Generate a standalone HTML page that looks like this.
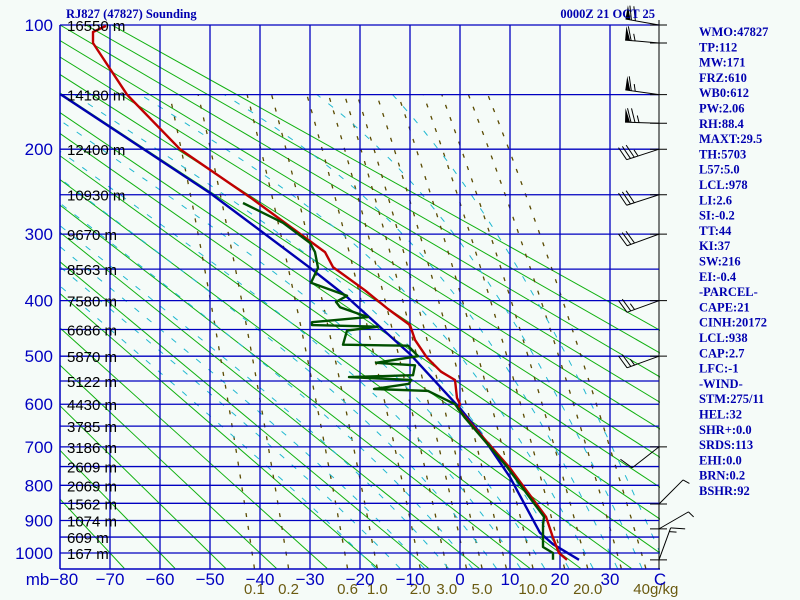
<!DOCTYPE html>
<html><head><meta charset="utf-8"><style>
body{margin:0;background:#f5fbf8;}
svg{display:block;font-family:"Liberation Sans",sans-serif;}
.bt{font-family:"Liberation Serif",serif;font-weight:bold;fill:#0000b0;font-size:12.5px;}
</style></head><body>
<svg id="chart" width="800" height="600" viewBox="0 0 800 600">
<rect width="800" height="600" fill="#f5fbf8"/>
<defs><clipPath id="plotclip"><rect x="60" y="25" width="600" height="544"/></clipPath>
<clipPath id="lowclip"><rect x="60" y="95" width="600" height="474"/></clipPath></defs>
<g id="dry" clip-path="url(#plotclip)"></g>
<g id="mix" clip-path="url(#lowclip)"></g>
<g id="moist" clip-path="url(#lowclip)"></g>
<g id="grid"></g>
<g id="profiles" clip-path="url(#plotclip)"></g>
<g id="winds"></g>
<g id="labels"></g>
<text x="66" y="18" class="bt" font-size="11.5">RJ827 (47827) Sounding</text>
<text x="655" y="18" class="bt" font-size="11.5" text-anchor="end">0000Z 21 OCT 25</text>
<g id="panel"></g>
</svg>
<script>
const pressureLevels=[100,150,200,250,300,350,400,450,500,550,600,650,700,750,800,850,900,950,1000];
const heightLabels=["16550","14180","12400","10930","9670","8563","7580","6686","5870","5122","4430","3785","3186","2609","2069","1562","1074","609","167"];
const pressureTickLabels=[100,200,300,400,500,600,700,800,900,1000];
const tempTicks=[-80,-70,-60,-50,-40,-30,-20,-10,0,10,20,30,40];
const mixRatios=[0.1,0.2,0.6,1.0,2.0,3.0,4.0,5.0,7.0,10.0,15.0,20.0,30.0,40.0];
const mixLabels=["0.1","0.2","0.6","1.0","2.0","3.0","","5.0","","10.0","","20.0","","40g/kg"];
const tempP=[100.6,104.4,111.6,150,200,253,325,347,383,414,442,469,503,531,548,586,600,610,631,751,889,952,1000,1022];
const tempT=[-70.8,-73.4,-73.4,-66.6,-56,-42,-27,-25.4,-19,-14.4,-10,-9,-6.6,-3.8,-1,-0.6,0,-0.4,1.2,9.8,17.2,18.6,19.8,21.4];
const dewP=[260,285,312,325,348,371,392,402,411,428,437,442,445,452,478,480,500,513,518,538,542,548,556,567,571,600,631,751,889,913,981,1000,1022];
const dewT=[-43.4,-35.4,-30,-29,-28.4,-29.8,-22.6,-24.8,-24,-18.4,-29.6,-29.6,-16.4,-22.6,-23.4,-10.4,-8.4,-16.8,-9,-9.4,-22.2,-9.8,-10.2,-17.2,-6.4,-1,1,9.4,16.8,16.6,16.6,18.6,18.6];
const parcelP=[150,248,348,394,496,609,666,778,937,972,1022];
const parcelT=[-79.8,-50,-30,-22.6,-10,0,4,10,16,18.6,23.8];
const windP=[100,111.6,150,175,200,250,300,400,500,700,852,925,1022];
const windSpd=[70,65,65,75,35,30,30,25,25,10,5,5,15];
const windDir=[280,275,278,272,252,252,250,250,250,232,45,60,20];
const indexLabels=["WMO:47827","TP:112","MW:171","FRZ:610","WB0:612","PW:2.06","RH:88.4","MAXT:29.5","TH:5703","L57:5.0","LCL:978","LI:2.6","SI:-0.2","TT:44","KI:37","SW:216","EI:-0.4","-PARCEL-","CAPE:21","CINH:20172","LCL:938","CAP:2.7","LFC:-1","-WIND-","STM:275/11","HEL:32","SHR+:0.0","SRDS:113","EHI:0.0","BRN:0.2","BSHR:92"];

const NS="http://www.w3.org/2000/svg";
function yOf(p){return 553-(7.211-Math.pow(p,0.286))*151.8;}
function xOf(t){return 60+(t+80)*5;}
function mk(tag,attrs,parent){const e=document.createElementNS(NS,tag);for(const k in attrs)e.setAttribute(k,attrs[k]);parent.appendChild(e);return e;}
const G=id=>document.getElementById(id);

for(let th=-70;th<=120;th+=10){
  const K=th+273.15;
  const pts=[1050,100].map(p=>[xOf(K*Math.pow(p/1000,0.286)-273.15),yOf(p)]);
  const l=mk('line',{x1:pts[0][0],y1:pts[0][1],x2:pts[1][0],y2:pts[1][1],stroke:'#10b010','stroke-width':1},G('dry'));
  
  
}
function tdOf(w,p){const e=w*p/(622+w);const a=Math.log(e/6.112);return 243.5*a/(17.67-a);}
mixRatios.forEach((w,i)=>{
  let d='';for(let p=1050;p>=140;p-=10){d+=(p==1050?'M':'L')+xOf(tdOf(w,p)).toFixed(1)+','+yOf(p).toFixed(1);}
  const pa=mk('path',{d:d,fill:'none',stroke:'#5a4a00','stroke-width':1.3,'stroke-dasharray':'4,9'},G('mix'));
  
  
  if(mixLabels[i]){
  const t=mk('text',{x:xOf(tdOf(w,1050))+(i==13?10:0),y:594,'font-size':15,fill:'#6a5a10','text-anchor':'middle'},G('labels'));
  t.textContent=mixLabels[i];
  
  }
});
function es(T){return 6.112*Math.exp(17.67*T/(T+243.5));}
function moistPath(tw){
  function step(T,p,dp){const Tk=T+273.15;const rs=0.622*es(T)/(p-es(T));
    const g=(287*Tk+2.5e6*rs)/(1004+2.5e6*2.5e6*rs*0.622/(287*Tk*Tk))/p;return T+g*dp;}
  let pts=[];let T=tw;
  for(let p=1000;p<1050;p+=5){T=step(T,p,5);} pts.push([1050,T]);
  let T2=T;for(let p=1050;p>140;p-=5){T2=step(T2,p,-5);pts.push([p-5,T2]);}
  return pts.map((q,i)=>(i?'L':'M')+xOf(q[1]).toFixed(1)+','+yOf(q[0]).toFixed(1)).join('');
}
for(let tw=-20;tw<=40;tw+=5){
  const pa=mk('path',{d:moistPath(tw),fill:'none',stroke:'#20b8d0','stroke-width':1,'stroke-dasharray':'6,10'},G('moist'));
  
  
}
tempTicks.forEach((t,i)=>{
  if(t>-80&&t<40){const l=mk('line',{x1:xOf(t),y1:25,x2:xOf(t),y2:569,stroke:'#0000c0','stroke-width':1.3},G('grid'));
  
  }
  const tx=mk('text',{x:t==-80?52:xOf(t),y:585,'font-size':17,fill:'#0000c0','text-anchor':'middle'},G('labels'));
  tx.textContent=(t==-80?'mb':'')+(t==40?'C':(t<0?'\u2212'+(-t):t));
  if(t==40)tx.setAttribute('x',660);
  
  
});
mk('line',{x1:60,y1:25,x2:60,y2:569,stroke:'#0000c0','stroke-width':1.5},G('grid'));
mk('line',{x1:60,y1:569,x2:660,y2:569,stroke:'#0000c0','stroke-width':1.5},G('grid'));
mk('line',{x1:659,y1:20,x2:659,y2:569,stroke:'#000','stroke-width':1},G('grid'));
pressureLevels.forEach((p,i)=>{
  const y=yOf(p);
  const l=mk('line',{x1:60,y1:y,x2:659,y2:y,stroke:'#0000c0','stroke-width':1.3},G('grid'));
  
  
  const t=mk('text',{x:67,y:y+6,'font-size':15,fill:'#000'},G('labels'));
  t.textContent=heightLabels[i]+' m';
  
  
});
pressureTickLabels.forEach(p=>{
  const t=mk('text',{x:53,y:yOf(p)+6,'font-size':17,fill:'#0000c0','text-anchor':'end'},G('labels'));
  t.textContent=p;
  
  
});
function line(P,T,color,name){
  const d=P.map((p,i)=>(i?'L':'M')+xOf(T[i]).toFixed(1)+','+yOf(p).toFixed(1)).join('');
  const pa=mk('path',{d:d,fill:'none',stroke:color,'stroke-width':2.4,'stroke-linejoin':'round'},G('profiles'));
  
  
}
line(parcelP,parcelT,'#0000b0','parcel-line');
line(tempP,tempT,'#c00000','temperature-line');
line(dewP,dewT,'#005000','dewpoint-line');
windP.forEach((p,i)=>{
  const y=yOf(p);const g=mk('g',{},G('winds'));
  
  
  mk('line',{x1:650,y1:y,x2:667,y2:y,stroke:'#000'},g);
  const a=windDir[i]*Math.PI/180;const ux=Math.sin(a),uy=-Math.cos(a);
  const L=34;const ex=659+ux*L,ey=y+uy*L;
  mk('line',{x1:659,y1:y,x2:ex,y2:ey,stroke:'#000'},g);
  let s=windSpd[i],pos=0;const px=-uy,py=ux;
  while(s>=50){const bx=ex-ux*pos,by=ey-uy*pos;
    mk('polygon',{points:`${bx},${by} ${bx+px*14},${by+py*14} ${bx-ux*5},${by-uy*5}`,fill:'#000'},g);pos+=6;s-=50;}
  while(s>=10){const bx=ex-ux*pos,by=ey-uy*pos;
    mk('line',{x1:bx,y1:by,x2:bx+px*14+ux*4,y2:by+py*14+uy*4,stroke:'#000'},g);pos+=4;s-=10;}
  if(s>=5){const bx=ex-ux*pos,by=ey-uy*pos;
    mk('line',{x1:bx,y1:by,x2:bx+px*7+ux*2,y2:by+py*7+uy*2,stroke:'#000'},g);}
});
indexLabels.forEach((s,i)=>{
  const t=mk('text',{x:699,y:36+i*15.3,class:'bt'},G('panel'));
  t.textContent=s;
  
  
});
</script>
</body></html>
